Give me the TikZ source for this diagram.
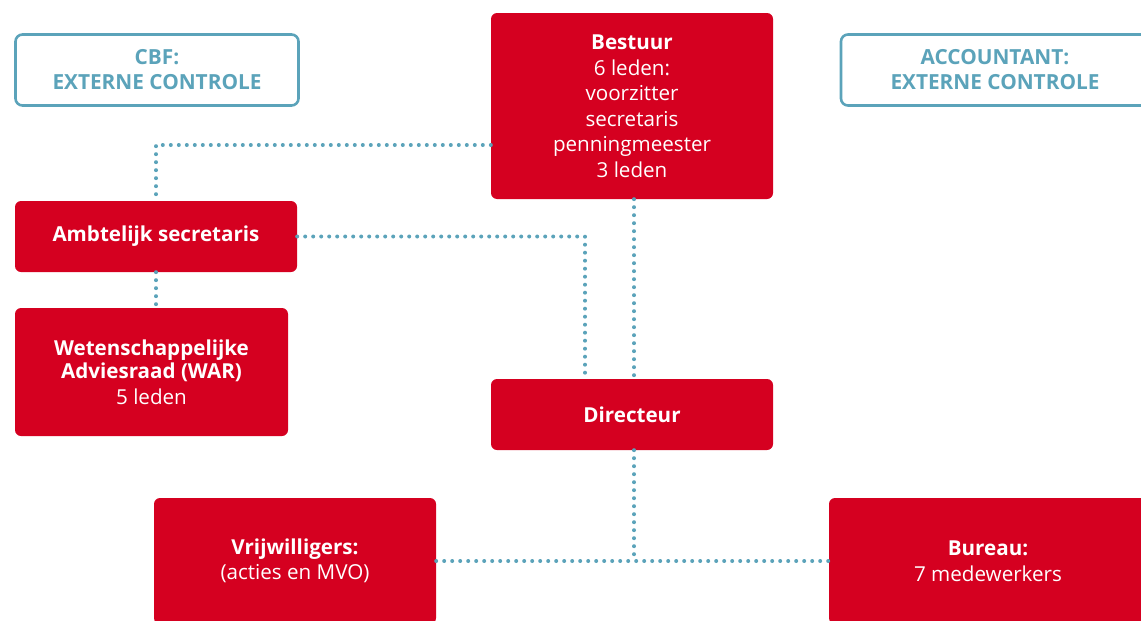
\documentclass[tikz,border=0pt]{standalone}
\usepackage{fontspec}
\setmainfont{Open Sans}
\definecolor{rood}{HTML}{D50020}
\definecolor{blauw}{HTML}{5BA3BA}
\tikzset{
  rodedoos/.style={fill=rood, rounded corners=6pt, text=white, align=center, inner sep=0pt},
  controle/.style={draw=blauw, line width=2.6pt, fill=white, rounded corners=7pt, text=blauw, align=center, inner sep=0pt, font=\fontsize{20.8}{25}\selectfont\bfseries},
  stippel/.style={draw=blauw, line width=4pt, line cap=round, dash pattern=on 0pt off 8pt}
}
\begin{document}
\begin{tikzpicture}[x=1pt,y=-1pt,font=\fontsize{20.6}{25.5}\selectfont]
\useasboundingbox (0,0) rectangle (1141,621);
\clip (0,0) rectangle (1141,621);
%externe controle
\node[controle, minimum width=283, minimum height=71] (cbf) at (157,70) {CBF:\\EXTERNE CONTROLE};
\node[controle, minimum width=308, minimum height=71] (acc) at (995,70) {ACCOUNTANT:\\EXTERNE CONTROLE};
%bestuur en directie
\node[rodedoos, minimum width=282, minimum height=186] (bestuur) at (632,106)
  {\textbf{Bestuur}\\6 leden:\\voorzitter\\secretaris\\penningmeester\\3 leden};
\node[rodedoos, minimum width=282, minimum height=71] (dir) at (632,414.5) {\textbf{Directeur}};
%links
\node[rodedoos, minimum width=282, minimum height=71] (ambt) at (156,236.5) {\textbf{Ambtelijk secretaris}};
\node[rodedoos, minimum width=273, minimum height=128] (war) at (151.5,372)
  {\textbf{Wetenschappelijke}\\[-2pt]\textbf{Adviesraad (WAR)}\\5 leden};
%onder
\node[rodedoos, minimum width=282, minimum height=126] (vrij) at (295,561) {\textbf{Vrijwilligers:}\\(acties en MVO)};
\node[rodedoos, minimum width=318, minimum height=126] (bureau) at (988,561) {\textbf{Bureau:}\\7 medewerkers};
%lijnen
\draw[stippel] (bestuur.west |- 0,145) -| (ambt.north);
\draw[stippel] (ambt.south) -- (war.north -| ambt.south);
\draw[stippel] (ambt.east) -| (dir.north -| 585,0);
\draw[stippel] (bestuur.south -| 634,0) -- (dir.north -| 634,0);
\draw[stippel] (dir.south -| 634,0) -- (634,0 |- vrij.east);
\draw[stippel] (vrij.east) -- (bureau.west);
\end{tikzpicture}
\end{document}
